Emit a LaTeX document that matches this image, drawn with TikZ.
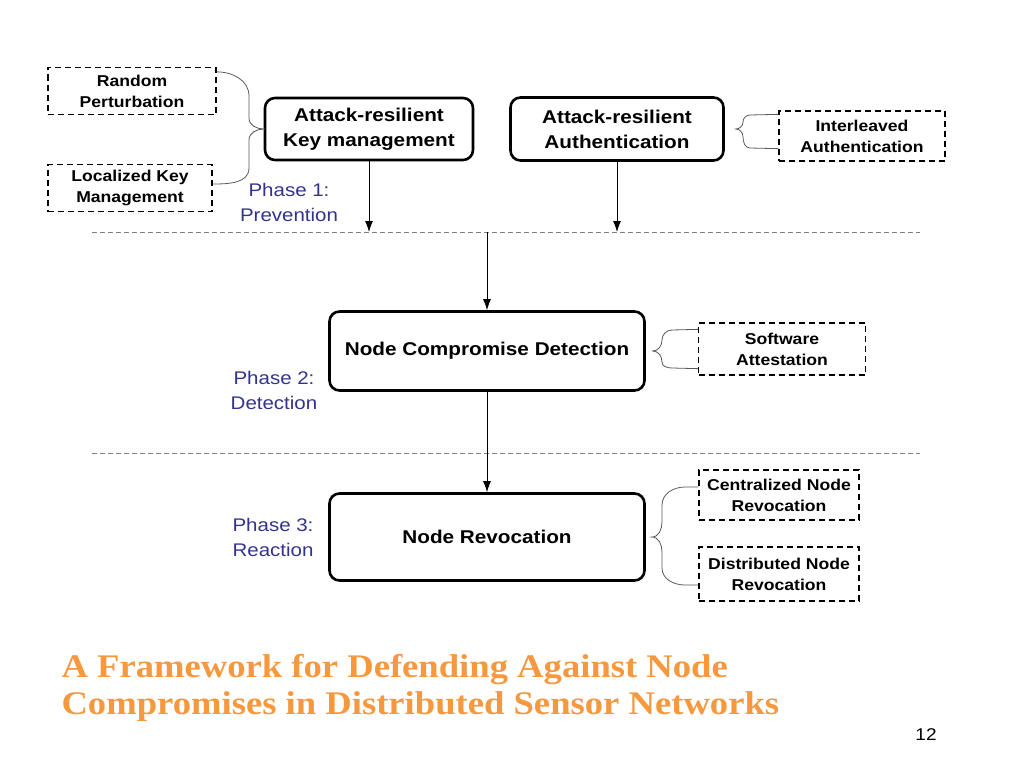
\documentclass[tikz,border=0pt]{standalone}
\usepackage{fontspec}
\setmainfont[FakeStretch=1.12]{Liberation Sans}
\newfontfamily\titlefont[FakeStretch=1.11]{Liberation Serif}
\usetikzlibrary{arrows.meta}
\definecolor{phaseblue}{RGB}{51,51,140}
\definecolor{titleorange}{RGB}{245,152,62}
\tikzset{
    stage/.style={draw, line width=2.6pt, rounded corners=10pt, align=center, inner sep=0pt,
        font=\bfseries\fontsize{18.5}{25}\selectfont},
    method/.style={draw, dash pattern=on 6pt off 4pt, line width=1.3pt, align=center, inner sep=0pt,
        font=\bfseries\fontsize{15.7}{21}\selectfont},
    phase/.style={text=phaseblue, align=center, font=\fontsize{18.3}{25}\selectfont},
    brace/.style={draw=gray!70!black, line width=0.8pt},
    flow/.style={-{Latex[length=11pt,width=8pt]}, line width=0.9pt},
    sep/.style={dash pattern=on 5pt off 3pt, gray, line width=0.8pt}
}
\begin{document}
\begin{tikzpicture}[x=1pt, y=-1pt]
                        \useasboundingbox (0,0) rectangle (1024,768);

                        % stages
                        \node [stage, minimum width=208, minimum height=62] at (369, 129) (km) {Attack-resilient\\Key management};
                        \node [stage, minimum width=213, minimum height=63] at (617, 129) (auth) {Attack-resilient\\Authentication};
                        \node [stage, minimum width=315, minimum height=79] at (487, 351) (det) {Node Compromise Detection};
                        \node [stage, minimum width=315, minimum height=87] at (487, 537) (rev) {Node Revocation};

                        % methods
                        \node [method, minimum width=168, minimum height=47] at (132, 91) (rp) {Random\\Perturbation};
                        \node [method, minimum width=164, minimum height=47] at (130, 188) (lk) {Localized Key\\Management};
                        \node [method, minimum width=166, minimum height=50] at (862, 136) (ia) {Interleaved\\Authentication};
                        \node [method, minimum width=167, minimum height=52] at (782, 349) (sa) {Software\\Attestation};
                        \node [method, minimum width=160, minimum height=50] at (779, 495) (cn) {Centralized Node\\Revocation};
                        \node [method, minimum width=160, minimum height=54] at (779, 574) (dn) {Distributed Node\\Revocation};

                        % phases
                        \node [phase] at (289, 202) (p1) {Phase 1:\\Prevention};
                        \node [phase] at (274, 390) (p2) {Phase 2:\\Detection};
                        \node [phase] at (273, 537) (p3) {Phase 3:\\Reaction};

                        % separators
                        \coordinate (s1l) at (92, 232);
                        \coordinate (s1r) at (920, 232);
                        \coordinate (s2l) at (92, 453);
                        \coordinate (s2r) at (920, 453);
                        \coordinate (s1m) at (487, 232);
                        \draw [sep] (s1l) -- (s1r);
                        \draw [sep] (s2l) -- (s2r);

                        \draw [flow] (km.south) -- (km.south |- s1l);
                        \draw [flow] (auth.south) -- (auth.south |- s1l);
                        \draw [flow] (s1m) -- (det.north);
                        \draw [flow] (det.south) -- (rev.north);

                        % braces
                        \draw [brace] ([yshift=-5pt]rp.north east) to[out=0, in=90] (249, 96) -- (249, 118)
                            to[out=-90, in=180] (km.west) to[out=180, in=90] (249, 140) -- (249, 168)
                            to[out=-90, in=0] ([yshift=4pt]lk.east);
                        \draw [brace] ([yshift=-4pt]ia.north west) -- (750, 115) to[out=180, in=90] (743, 122)
                            to[out=-90, in=0] ([xshift=11pt]auth.east) to[out=0, in=90] (743, 137)
                            to[out=-90, in=180] (750, 148) -- ([yshift=13pt]ia.south west);
                        \draw [brace] ([yshift=-7pt]sa.north west) -- (672, 330) to[out=180, in=90] (662, 340)
                            to[out=-90, in=0] ([xshift=7pt]det.east) to[out=0, in=90] (662, 362)
                            to[out=-90, in=180] (672, 368) -- ([yshift=7pt]sa.south west);
                        \draw [brace] ([yshift=8pt]cn.west) -- (685, 487) to[out=180, in=90] (662, 505) -- (662, 522)
                            to[out=-90, in=0] ([xshift=6pt]rev.east) to[out=0, in=90] (662, 552) -- (662, 568)
                            to[out=-90, in=180] (685, 585) -- ([yshift=-11pt]dn.west);

                        % title
                        \node [anchor=west, align=left, text=titleorange, font=\titlefont\bfseries\fontsize{33}{37}\selectfont]
                            at (58, 688) (title) {A Framework for Defending Against Node\\Compromises in Distributed Sensor Networks};
                        \node [font=\fontsize{17}{19}\selectfont] at (926, 735) (page) {12};
                    \end{tikzpicture}
\end{document}
